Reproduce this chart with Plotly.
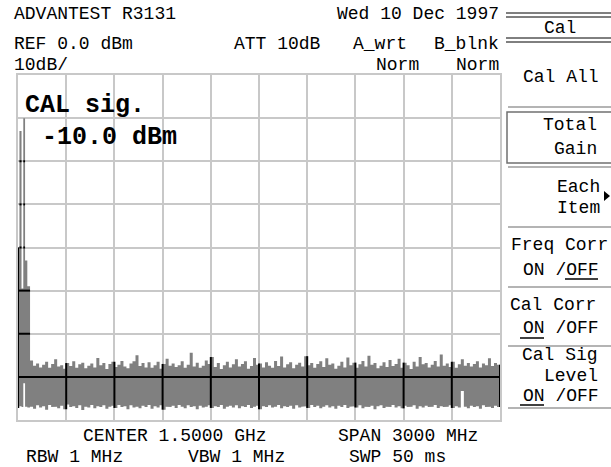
import plotly.graph_objects as go

# ---------------- data ----------------
span_start_mhz = 0
span_stop_mhz = 3000
ref_level_dbm = 0
db_per_div = 10
grid_div_x = 10
grid_div_y = 8

# CAL signal region (fine columns near 0 Hz / 30 MHz)
cal_edges_mhz = [0, 9, 22, 33, 44, 58, 75]
cal_max_dbm = [-40, -13, -49.5, -10, -43, -49]
cal_min_dbm = [-77.2, -76.8, -77.0, -71.5, -76.9, -77.1]

# noise floor columns from 75 MHz to 3000 MHz, 18.75 MHz each
noise_start_mhz = 75
noise_bin_mhz = 18.75
noise_max_dbm = [
    -66.2, -67.4, -66.9, -67.8, -67.2, -66.5, -67.9, -67.0, -65.9, -67.6,
    -67.3, -68.1, -66.8, -67.5, -66.4, -67.9, -67.1, -66.7, -68.0, -67.4,
    -66.9, -67.8, -65.6, -67.3, -66.8, -68.2, -67.0, -66.5, -67.7, -67.2,
    -66.3, -67.6, -68.0, -66.9, -66.4, -65.0, -67.5, -66.8, -67.8, -66.6,
    -67.9, -67.3, -66.5, -68.1, -67.0, -65.8, -67.4, -66.9, -67.7, -67.3,
    -66.4, -67.9, -67.2, -64.4, -67.6, -66.7, -67.9, -67.4, -66.2, -67.0,
    -65.4, -67.7, -66.8, -68.2, -67.3, -66.5, -67.8, -67.1, -65.9, -67.6,
    -67.0, -66.4, -68.1, -67.5, -65.6, -67.2, -66.9, -67.8, -66.6, -67.4,
    -67.9, -66.3, -67.5, -65.3, -67.8, -67.1, -66.6, -68.0, -67.2, -66.7,
    -67.6, -65.2, -67.3, -66.8, -67.9, -67.0, -66.4, -67.7, -65.7, -67.2,
    -66.9, -68.1, -67.4, -66.5, -67.8, -65.5, -67.3, -66.7, -67.9, -67.1,
    -66.3, -67.6, -65.1, -67.2, -66.8, -68.0, -67.4, -66.6, -67.7, -66.1,
    -67.5, -67.0, -65.8, -67.9, -66.7, -67.3, -68.2, -66.5, -67.6, -65.4,
    -67.1, -66.8, -67.8, -67.2, -66.3, -67.6, -64.8, -67.4, -66.9, -67.7,
    -66.5, -67.9, -67.1, -65.9, -67.4, -66.8, -67.6, -67.0, -66.4, -67.8,
    -66.9, -67.3, -65.7, -67.5, -66.8, -67.2,
]
noise_min_dbm = [
    -76.9, -77.4, -76.6, -77.1, -76.8, -77.6, -76.5, -77.0, -76.9, -77.3,
    -76.7, -77.5, -76.4, -77.0, -76.8, -77.2, -76.6, -77.7, -76.9, -77.1,
    -76.5, -77.3, -76.8, -77.0, -76.6, -77.4, -76.9, -76.7, -77.2, -76.5,
    -77.0, -76.8, -77.5, -76.6, -77.1, -76.9, -77.3, -76.7, -77.0, -76.5,
    -77.4, -76.8, -77.1, -76.6, -77.6, -76.9, -77.0, -76.7, -77.2, -76.5,
    -76.9, -77.3, -76.6, -77.0, -76.8, -77.5, -76.7, -77.1, -76.9, -76.6,
    -77.2, -76.8, -77.0, -76.5, -77.4, -76.9, -76.7, -77.1, -76.6, -77.3,
    -76.8, -77.0, -76.5, -77.2, -76.9, -76.7, -77.5, -76.8, -77.0, -76.6,
    -77.1, -76.9, -76.5, -77.3, -76.8, -77.0, -76.7, -77.4, -76.6, -77.1,
    -76.9, -76.8, -77.2, -76.5, -77.0, -76.7, -77.3, -76.9, -76.6, -77.1,
    -76.8, -77.4, -76.7, -77.0, -76.5, -77.2, -76.9, -76.8, -77.1, -76.6,
    -77.3, -76.9, -77.0, -76.7, -77.5, -76.8, -76.6, -77.2, -76.9, -77.0,
    -76.5, -77.1, -76.8, -77.3, -76.7, -77.0, -76.9, -76.6, -77.4, -76.8,
    -77.1, -76.7, -77.0, -76.9, -76.5, -77.2, -76.8, -77.0, -76.9, -76.6,
    -77.2, -76.8, -77.1, -73.3, -76.9, -77.3, -76.7, -77.0, -76.8, -77.4,
    -76.6, -77.0, -76.9, -77.2, -76.7, -77.0,
]

header_left = ["ADVANTEST R3131", "REF 0.0 dBm", "10dB/"]
header_mid = ["ATT 10dB", "A_wrt", "B_blnk", "Norm", "Norm"]
date_text = "Wed 10 Dec 1997"
marker_texts = ["CAL sig.", "-10.0 dBm"]
footer_texts = ["CENTER 1.5000 GHz", "SPAN 3000 MHz", "RBW 1 MHz", "VBW 1 MHz", "SWP 50 ms"]
menu_title = "Cal"
menu_items = ["Cal All", "Total", "Gain", "Each", "Item", "Freq Corr", "ON /OFF",
              "Cal Corr", "ON /OFF", "Cal Sig", "Level", "ON /OFF"]

# ---------------- build ----------------
W, H = 611, 467
PX0, PX1, PY0, PY1 = 18, 500, 75, 420
FONT = "Liberation Mono"
FS = 18
GRID = "#c8c8c8"
TRACE = "#808080"


def px(x):
    return x / W


def py(y):
    return 1 - y / H


edges = list(cal_edges_mhz) + [noise_start_mhz + noise_bin_mhz * (k + 1) for k in range(len(noise_max_dbm))]
maxs = list(cal_max_dbm) + list(noise_max_dbm)
mins = list(cal_min_dbm) + list(noise_min_dbm)
n = len(maxs)

# step polygon
poly_x, poly_y = [], []
for i in range(n):
    poly_x += [edges[i], edges[i + 1]]
    poly_y += [maxs[i], maxs[i]]
for i in reversed(range(n)):
    poly_x += [edges[i + 1], edges[i]]
    poly_y += [mins[i], mins[i]]
poly_x.append(poly_x[0])
poly_y.append(poly_y[0])

fig = go.Figure()
fig.add_trace(go.Scatter(x=poly_x, y=poly_y, mode="lines", fill="toself",
                         fillcolor=TRACE, line=dict(width=0), hoverinfo="skip",
                         showlegend=False))

# grid lines look black where they cross the trace
bx, by = [], []
x_step = (span_stop_mhz - span_start_mhz) / grid_div_x
for k in range(grid_div_x + 1):
    gx = span_start_mhz + k * x_step
    cols = [i for i in range(n) if edges[i] - 1e-6 <= gx <= edges[i + 1] + 1e-6]
    hi = max(maxs[i] for i in cols)
    lo = min(mins[i] for i in cols)
    bx += [gx, gx, None]
    by += [lo, hi, None]
for k in range(1, grid_div_y):
    lvl = ref_level_dbm - k * db_per_div
    start = None
    for i in range(n + 1):
        inside = i < n and mins[i] < lvl < maxs[i] - 0.3
        if inside and start is None:
            start = edges[i]
        if not inside and start is not None:
            bx += [start, edges[i], None]
            by += [lvl, lvl, None]
            start = None
fig.add_trace(go.Scatter(x=bx, y=by, mode="lines", line=dict(color="black", width=2),
                         hoverinfo="skip", showlegend=False, cliponaxis=False))

fig.update_xaxes(domain=[px(PX0), px(PX1)], range=[span_start_mhz, span_stop_mhz],
                 dtick=x_step, tick0=span_start_mhz, showgrid=True, gridcolor=GRID, gridwidth=2,
                 showticklabels=False, ticks="", zeroline=False, showline=True,
                 linecolor=GRID, linewidth=2, mirror=True, layer="below traces", fixedrange=True)
fig.update_yaxes(domain=[py(PY1), py(PY0)],
                 range=[ref_level_dbm - grid_div_y * db_per_div, ref_level_dbm],
                 dtick=db_per_div, tick0=ref_level_dbm, showgrid=True, gridcolor=GRID, gridwidth=2,
                 showticklabels=False, ticks="", zeroline=False, showline=True,
                 linecolor=GRID, linewidth=2, mirror=True, layer="below traces", fixedrange=True)

ann = []


def text(t, x, y, anchor="left", size=FS, bold=False):
    ann.append(dict(text=("<b>%s</b>" % t) if bold else t, x=px(x), y=py(y),
                    xref="paper", yref="paper", xanchor=anchor, yanchor="middle",
                    showarrow=False, font=dict(family=FONT, size=size, color="black")))


text(header_left[0], 12, 14)
text(header_left[1], 12, 44)
text(header_left[2], 12, 65)
text(date_text, 501, 14, "right")
text(header_mid[0], 232, 44)
text(header_mid[1], 351, 44)
text(header_mid[2], 501, 44, "right")
text(header_mid[3], 421, 65, "right")
text(header_mid[4], 501, 65, "right")
text(marker_texts[0], 23, 105, size=25, bold=True)
text(marker_texts[1], 40, 137, size=25, bold=True)
text(footer_texts[0], 81, 436)
text(footer_texts[1], 336, 436)
text(footer_texts[2], 24, 456.5)
text(footer_texts[3], 186, 456.5)
text(footer_texts[4], 347, 456.5)

text(menu_title, 560, 28, "center")
text(menu_items[0], 521, 77)
text(menu_items[1], 599, 125, "right")
text(menu_items[2], 599, 149, "right")
text(menu_items[3], 602, 187, "right")
text(menu_items[4], 602, 208, "right")
text(menu_items[5], 509, 245)
text(menu_items[6], 521, 270)
text(menu_items[7], 508, 305)
text(menu_items[8], 521, 328)
text(menu_items[9], 600, 355, "right")
text(menu_items[10], 600, 375.5, "right")
text(menu_items[11], 521, 396)

shapes = []


def hline(x0, x1, y, color="black", width=1):
    shapes.append(dict(type="line", xref="paper", yref="paper", x0=px(x0), x1=px(x1),
                       y0=py(y), y1=py(y), line=dict(color=color, width=width)))


# menu title double rules
hline(506, 611, 13)
hline(506, 611, 17)
hline(506, 611, 38)
hline(506, 611, 42)
# separators
SEP = "#b4b4b4"
for yy in [107, 167, 227, 287, 346, 408]:
    hline(508, 611, yy, SEP, 2)
# selected key box
shapes.append(dict(type="rect", xref="paper", yref="paper", x0=px(507), x1=px(615),
                   y0=py(163), y1=py(112), line=dict(color="#707070", width=1.5)))
# underlines
hline(565, 598, 279, "black", 1.5)
hline(520, 544, 338, "black", 1.5)
hline(520, 544, 405, "black", 1.5)
# arrow
shapes.append(dict(type="path", xref="paper", yref="paper",
                   path="M %f %f L %f %f L %f %f Z" % (px(604), py(191), px(610), py(196), px(604), py(201)),
                   fillcolor="black", line=dict(width=0)))

fig.update_layout(width=W, height=H, margin=dict(l=0, r=0, t=0, b=0),
                  paper_bgcolor="white", plot_bgcolor="white",
                  annotations=ann, shapes=shapes, showlegend=False)

fig.write_html("out.html", config={"displayModeBar": False},
               post_script="document.body.style.margin='0';document.body.style.overflow='hidden';")
